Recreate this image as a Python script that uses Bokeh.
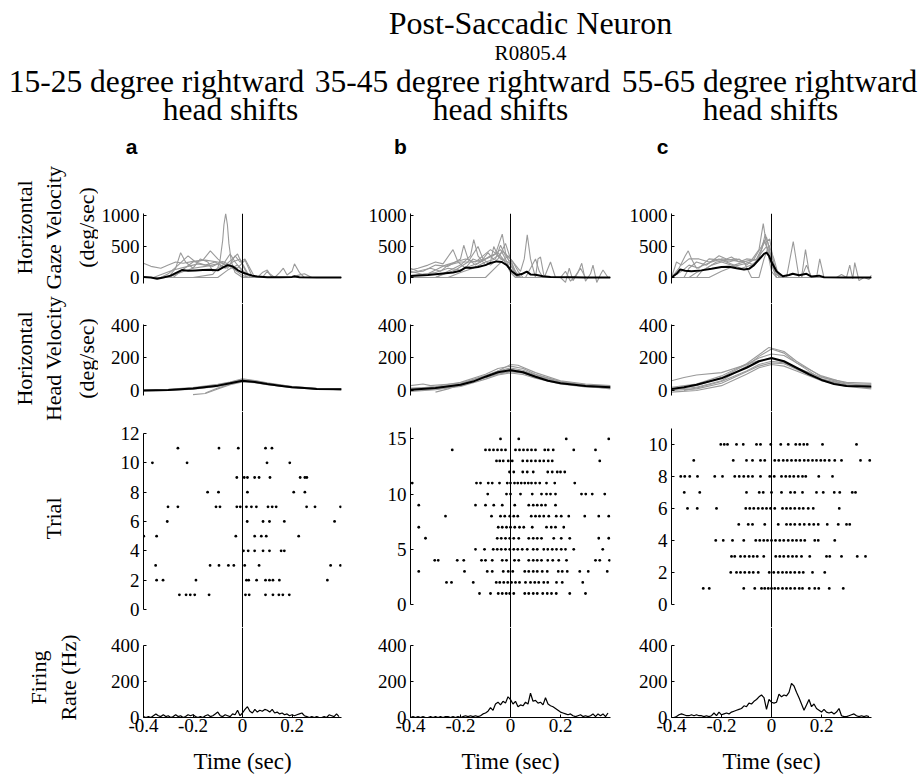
import math
from bokeh.plotting import figure
from bokeh.models import Range1d, LinearAxis, FixedTicker, Span, NumeralTickFormatter
from bokeh.layouts import column, row
from bokeh.core.properties import value
from bokeh.embed import file_html
from bokeh.resources import INLINE

# ---------------- DATA ----------------
COL_TITLES_1 = ["15-25 degree rightward", "35-45 degree rightward", "55-65 degree rightward"]
COL_TITLE_2 = "head shifts"
PANEL_LETTERS = ["a", "b", "c"]
TIME_TICKS = [-0.4, -0.2, 0, 0.2]

# Horizontal gaze velocity: mean (black) and single trials (grey), (time s, deg/s)
GAZE_A_MEAN = [(-0.4,10),(-0.37,0),(-0.345,-20),(-0.32,0),(-0.29,30),(-0.27,70),(-0.245,120),(-0.22,110),(-0.19,115),(-0.16,120),(-0.13,125),(-0.1,115),(-0.08,160),(-0.06,200),(-0.04,180),(-0.02,120),(0.0,80),(0.02,55),(0.04,30),(0.06,15),(0.1,5),(0.15,5),(0.2,10),(0.21,20),(0.23,5),(0.3,0),(0.4,0)]
GAZE_A_GRAY = [
    [(-0.4,0),(-0.2,0),(-0.12,50),(-0.1,150),(-0.09,300),(-0.08,600),(-0.075,850),(-0.068,1030),(-0.061,850),(-0.055,550),(-0.045,250),(-0.03,80),(0.0,0),(0.4,0)],
    [(-0.4,230),(-0.37,180),(-0.33,150),(-0.3,200),(-0.27,250),(-0.24,230),(-0.2,260),(-0.15,280),(-0.1,250),(-0.06,200),(-0.03,120),(0.0,30),(0.03,0),(0.4,0)],
    [(-0.4,0),(-0.3,0),(-0.27,150),(-0.25,400),(-0.23,250),(-0.2,150),(-0.17,300),(-0.14,250),(-0.12,100),(-0.08,200),(-0.05,380),(-0.03,250),(0.0,100),(0.02,0),(0.4,0)],
    [(-0.4,0),(-0.28,0),(-0.25,100),(-0.2,250),(-0.16,280),(-0.13,430),(-0.1,300),(-0.07,200),(-0.04,300),(-0.02,380),(0.0,200),(0.02,50),(0.04,0),(0.4,0)],
    [(-0.4,0),(-0.33,0),(-0.3,60),(-0.26,200),(-0.22,350),(-0.19,250),(-0.15,200),(-0.11,250),(-0.07,150),(-0.04,250),(-0.01,300),(0.01,150),(0.03,0),(0.4,0)],
    [(-0.4,0),(-0.3,0),(-0.25,80),(-0.2,150),(-0.15,180),(-0.1,220),(-0.06,150),(-0.03,350),(-0.01,250),(0.01,300),(0.03,150),(0.05,0),(0.08,0),(0.1,100),(0.12,0),(0.4,0)],
    [(-0.4,0),(-0.1,0),(-0.06,120),(-0.02,200),(0.0,120),(0.02,40),(0.06,0),(0.08,80),(0.1,120),(0.11,60),(0.13,0),(0.15,80),(0.165,150),(0.18,40),(0.2,100),(0.21,220),(0.23,80),(0.25,0),(0.4,0)],
    [(-0.4,0),(-0.36,0),(-0.32,60),(-0.28,120),(-0.22,180),(-0.18,220),(-0.12,180),(-0.08,260),(-0.05,200),(-0.02,150),(0.01,280),(0.025,150),(0.04,0),(0.2,0),(0.22,30),(0.25,60),(0.28,0),(0.4,0)],
]
GAZE_B_MEAN = [(-0.4,25),(-0.33,40),(-0.27,65),(-0.23,80),(-0.2,110),(-0.18,160),(-0.16,155),(-0.13,170),(-0.1,200),(-0.08,235),(-0.055,260),(-0.035,250),(-0.015,200),(0.005,100),(0.025,40),(0.045,55),(0.065,95),(0.08,50),(0.1,45),(0.13,20),(0.16,10),(0.25,5),(0.3,0),(0.4,0)]
GAZE_B_GRAY = [
    [(-0.4,120),(-0.37,150),(-0.33,200),(-0.3,250),(-0.27,220),(-0.23,450),(-0.21,250),(-0.18,150),(-0.15,300),(-0.12,250),(-0.08,350),(-0.05,400),(-0.03,300),(0.0,100),(0.03,0),(0.4,0)],
    [(-0.4,80),(-0.35,100),(-0.3,200),(-0.25,180),(-0.2,300),(-0.187,520),(-0.17,300),(-0.14,200),(-0.1,300),(-0.07,350),(-0.04,450),(-0.02,300),(0.0,120),(0.03,0),(0.4,0)],
    [(-0.4,0),(-0.3,0),(-0.25,100),(-0.2,200),(-0.16,350),(-0.147,610),(-0.13,350),(-0.1,200),(-0.08,250),(-0.067,500),(-0.05,350),(-0.02,250),(0.0,80),(0.02,0),(0.4,0)],
    [(-0.4,150),(-0.37,100),(-0.32,150),(-0.28,100),(-0.25,200),(-0.2,250),(-0.15,250),(-0.1,300),(-0.06,380),(-0.033,700),(-0.02,400),(0.0,200),(0.02,50),(0.04,0),(0.4,0)],
    [(-0.4,100),(-0.35,50),(-0.3,80),(-0.25,150),(-0.2,120),(-0.15,200),(-0.12,250),(-0.09,400),(-0.07,300),(-0.05,350),(-0.03,420),(0.0,300),(0.02,200),(0.04,100),(0.055,300),(0.067,690),(0.08,300),(0.1,0),(0.11,300),(0.12,330),(0.135,0),(0.16,250),(0.18,0),(0.4,0)],
    [(-0.4,0),(-0.25,0),(-0.2,80),(-0.15,150),(-0.1,250),(-0.06,300),(-0.04,520),(-0.02,350),(0.0,250),(0.02,100),(0.04,0),(0.06,0),(0.08,150),(0.1,300),(0.115,100),(0.13,0),(0.4,0)],
    [(-0.4,0),(-0.1,0),(-0.05,200),(-0.01,350),(0.01,250),(0.03,100),(0.05,0),(0.2,0),(0.22,-80),(0.235,150),(0.25,-50),(0.27,80),(0.285,230),(0.3,-60),(0.32,60),(0.33,200),(0.345,-80),(0.36,50),(0.37,120),(0.39,0),(0.4,0)],
    [(-0.4,30),(-0.33,60),(-0.3,120),(-0.26,200),(-0.22,250),(-0.18,300),(-0.14,250),(-0.11,350),(-0.08,450),(-0.055,380),(-0.04,300),(-0.01,250),(0.01,150),(0.03,0),(0.4,0)],
    [(-0.4,0),(-0.3,0),(-0.27,50),(-0.22,120),(-0.17,250),(-0.13,500),(-0.11,300),(-0.08,200),(-0.05,300),(-0.02,550),(0.0,300),(0.02,80),(0.04,0),(0.2,0),(0.22,100),(0.24,-60),(0.26,30),(0.28,150),(0.3,0),(0.4,0)],
]
GAZE_C_MEAN = [(-0.4,0),(-0.38,60),(-0.365,130),(-0.345,110),(-0.32,100),(-0.28,115),(-0.24,140),(-0.2,170),(-0.17,175),(-0.14,150),(-0.11,130),(-0.09,140),(-0.07,200),(-0.05,290),(-0.03,380),(-0.02,400),(-0.01,350),(0.0,250),(0.02,100),(0.045,20),(0.07,40),(0.085,60),(0.11,35),(0.14,60),(0.16,15),(0.19,30),(0.21,5),(0.3,0),(0.4,0)]
GAZE_C_GRAY = [
    [(-0.4,0),(-0.37,150),(-0.345,350),(-0.333,430),(-0.32,300),(-0.3,150),(-0.27,200),(-0.24,250),(-0.2,300),(-0.16,280),(-0.12,250),(-0.08,280),(-0.05,450),(-0.033,870),(-0.015,400),(0.0,100),(0.02,0),(0.4,0)],
    [(-0.4,0),(-0.38,250),(-0.36,200),(-0.33,300),(-0.29,300),(-0.25,250),(-0.21,300),(-0.17,250),(-0.13,300),(-0.1,200),(-0.07,300),(-0.04,500),(-0.02,650),(0.0,300),(0.02,50),(0.04,0),(0.4,0)],
    [(-0.4,0),(-0.35,0),(-0.33,150),(-0.3,250),(-0.26,200),(-0.21,350),(-0.18,300),(-0.16,330),(-0.13,250),(-0.1,300),(-0.06,280),(-0.03,550),(-0.007,620),(0.01,200),(0.03,0),(0.06,0),(0.087,580),(0.11,0),(0.4,0)],
    [(-0.4,0),(-0.3,0),(-0.28,100),(-0.24,200),(-0.2,250),(-0.16,200),(-0.12,150),(-0.08,200),(-0.05,300),(-0.03,600),(-0.015,450),(0.0,200),(0.02,0),(0.12,0),(0.136,450),(0.15,100),(0.16,0),(0.4,0)],
    [(-0.4,0),(-0.33,0),(-0.3,80),(-0.26,150),(-0.22,250),(-0.18,280),(-0.14,300),(-0.1,250),(-0.07,200),(-0.04,400),(-0.02,500),(0.0,350),(0.02,100),(0.04,0),(0.12,0),(0.14,200),(0.16,0),(0.18,0),(0.193,300),(0.21,0),(0.4,0)],
    [(-0.4,0),(-0.25,0),(-0.2,100),(-0.15,180),(-0.1,230),(-0.06,300),(-0.04,450),(-0.025,700),(-0.01,500),(0.0,250),(0.02,0),(0.26,0),(0.28,50),(0.3,0),(0.313,200),(0.325,-20),(0.333,240),(0.35,-50),(0.37,0),(0.39,-30),(0.4,40)],
    [(-0.4,0),(-0.36,100),(-0.33,200),(-0.29,150),(-0.25,300),(-0.2,280),(-0.15,200),(-0.11,250),(-0.08,0),(-0.05,0),(-0.03,300),(-0.01,520),(0.01,300),(0.03,0),(0.4,0)],
]

# Horizontal head velocity (time s, deg/s)
HEAD_A_MEAN = [(-0.4,0),(-0.3,3),(-0.2,12),(-0.1,30),(-0.05,45),(0.0,60),(0.05,52),(0.1,40),(0.15,30),(0.2,20),(0.25,15),(0.3,10),(0.4,8)]
HEAD_A_GRAY = [
    [(-0.4,2),(-0.3,5),(-0.2,15),(-0.1,35),(-0.05,50),(0.0,68),(0.05,60),(0.1,45),(0.2,22),(0.3,12),(0.4,10)],
    [(-0.4,-3),(-0.3,0),(-0.2,8),(-0.1,25),(-0.05,40),(0.0,55),(0.05,50),(0.1,38),(0.2,18),(0.3,8),(0.4,5)],
    [(-0.2,-25),(-0.15,-18),(-0.1,10),(-0.05,35),(0.0,52),(0.05,48),(0.1,35),(0.2,20),(0.3,10),(0.4,6)],
    [(-0.4,5),(-0.3,8),(-0.2,18),(-0.1,38),(-0.05,52),(0.0,72),(0.05,62),(0.1,48),(0.2,25),(0.3,14),(0.4,12)],
    [(-0.15,-15),(-0.1,15),(-0.05,38),(0.0,58),(0.05,55),(0.1,42),(0.2,20),(0.3,10),(0.4,8)],
    [(-0.4,0),(-0.3,2),(-0.2,10),(-0.1,28),(-0.05,44),(0.0,62),(0.05,56),(0.1,44),(0.2,24),(0.3,12),(0.4,4)],
]
HEAD_B_MEAN = [(-0.4,5),(-0.3,15),(-0.2,35),(-0.15,55),(-0.1,85),(-0.05,112),(0.0,125),(0.05,112),(0.1,85),(0.15,60),(0.2,45),(0.3,28),(0.4,20)]
HEAD_B_GRAY = [
    [(-0.4,10),(-0.3,25),(-0.2,50),(-0.1,100),(-0.05,135),(0.0,150),(0.05,135),(0.1,100),(0.2,55),(0.3,35),(0.4,25)],
    [(-0.4,0),(-0.3,8),(-0.2,25),(-0.1,70),(-0.05,95),(0.0,108),(0.05,98),(0.1,75),(0.2,40),(0.3,22),(0.4,15)],
    [(-0.4,30),(-0.35,40),(-0.32,30),(-0.28,35),(-0.2,45),(-0.1,90),(-0.05,118),(0.0,130),(0.05,118),(0.1,90),(0.2,50),(0.3,30),(0.4,20)],
    [(-0.4,-5),(-0.3,5),(-0.2,30),(-0.1,85),(-0.05,120),(0.0,160),(0.03,155),(0.1,110),(0.2,60),(0.3,40),(0.4,30)],
    [(-0.3,-10),(-0.25,10),(-0.2,35),(-0.1,80),(-0.05,105),(0.0,118),(0.05,108),(0.1,85),(0.2,45),(0.3,25),(0.4,15)],
    [(-0.4,15),(-0.3,20),(-0.2,40),(-0.1,92),(-0.05,120),(0.0,138),(0.05,125),(0.1,95),(0.2,55),(0.3,30),(0.4,10)],
    [(-0.4,5),(-0.3,12),(-0.2,32),(-0.1,78),(-0.05,100),(0.0,115),(0.05,108),(0.1,80),(0.2,48),(0.3,32),(0.4,28)],
]
HEAD_C_MEAN = [(-0.4,10),(-0.35,20),(-0.3,35),(-0.2,75),(-0.1,140),(-0.05,180),(0.0,200),(0.05,180),(0.1,140),(0.15,100),(0.2,65),(0.25,40),(0.3,28),(0.4,25)]
HEAD_C_GRAY = [
    [(-0.4,5),(-0.3,20),(-0.2,60),(-0.1,150),(-0.05,210),(0.0,255),(0.05,230),(0.1,170),(0.2,70),(0.3,30),(0.4,20)],
    [(-0.4,-10),(-0.3,0),(-0.2,30),(-0.1,100),(-0.05,140),(0.0,160),(0.05,150),(0.1,120),(0.2,60),(0.3,25),(0.4,10)],
    [(-0.4,60),(-0.35,80),(-0.3,95),(-0.2,110),(-0.1,160),(-0.05,185),(0.0,195),(0.05,175),(0.1,135),(0.2,70),(0.3,40),(0.4,40)],
    [(-0.4,10),(-0.3,30),(-0.2,80),(-0.1,160),(-0.05,200),(0.0,225),(0.05,215),(0.1,170),(0.2,90),(0.3,45),(0.4,25)],
    [(-0.35,0),(-0.3,15),(-0.2,55),(-0.1,120),(-0.05,160),(0.0,180),(0.05,170),(0.1,140),(0.15,110),(0.2,80),(0.3,50),(0.4,45)],
    [(-0.4,20),(-0.3,40),(-0.2,90),(-0.1,165),(-0.05,220),(-0.01,265),(0.05,240),(0.1,180),(0.2,85),(0.3,35),(0.4,15)],
    [(-0.4,0),(-0.3,10),(-0.2,45),(-0.1,115),(-0.05,150),(0.0,170),(0.05,165),(0.1,130),(0.2,65),(0.3,30),(0.4,35)],
]

# Spike rasters: spike times (s) for trials 1..N
RASTER_A = [
    [-0.255,-0.228,-0.211,-0.193,-0.135,0.012,0.027,0.093,0.123,0.147,0.163,0.189],
    [-0.347,-0.321,-0.188,0.016,0.025,0.057,0.093,0.109,0.123,0.149,0.343],
    [-0.351,-0.131,-0.095,-0.057,-0.035,0.009,0.067,0.356,0.396],
    [0.004,0.023,0.049,0.083,0.109,0.156,0.169],
    [-0.399,-0.347,-0.027,0.049,0.076,0.096,0.227],
    [-0.304,0.019,0.083,0.109,0.169,0.372],
    [-0.301,-0.261,-0.107,-0.091,-0.023,-0.009,0.016,0.036,0.056,0.103,0.12,0.136,0.259,0.293,0.396],
    [-0.141,-0.097,0.02,0.207,0.252],
    [-0.023,0.007,0.02,0.049,0.067,0.111,0.233,0.252,0.26],
    [-0.364,-0.224,0.099,0.191],
    [-0.261,-0.095,-0.017,0.093,0.119],
]
RASTER_B = [
    [-0.124,-0.08,-0.049,-0.033,-0.017,-0.003,0.013,0.057,0.073,0.091,0.107,0.129,0.147,0.164,0.183,0.237,0.3],
    [-0.256,-0.236,-0.149,-0.057,-0.043,-0.027,-0.011,0.004,0.02,0.036,0.06,0.08,0.097,0.113,0.133,0.149,0.184,0.207,0.289],
    [-0.367,-0.184,-0.093,-0.073,-0.029,-0.009,0.009,0.057,0.073,0.091,0.107,0.127,0.147,0.191,0.207,0.227,0.277,0.311,0.387],
    [-0.303,-0.289,-0.213,-0.187,-0.116,-0.1,-0.073,-0.033,-0.016,0.016,0.033,0.073,0.091,0.107,0.124,0.149,0.169,0.193,0.224,0.34,0.357,0.396],
    [-0.14,-0.104,-0.069,-0.053,-0.037,-0.02,-0.003,0.013,0.029,0.047,0.067,0.091,0.107,0.133,0.149,0.167,0.184,0.203,0.22,0.253,0.369],
    [-0.34,-0.053,-0.037,-0.02,-0.003,0.013,0.033,0.073,0.091,0.107,0.124,0.173,0.203,0.237,0.353,0.393],
    [-0.367,-0.049,-0.033,-0.016,0.0,0.017,0.036,0.053,0.087,0.144,0.163,0.18,0.213],
    [-0.26,-0.076,-0.04,-0.023,-0.003,0.013,0.029,0.083,0.1,0.116,0.133,0.153,0.183,0.203,0.233,0.297,0.353,0.393],
    [-0.367,-0.14,-0.1,-0.067,-0.033,0.017,0.073,0.091,0.107,0.124,0.14,0.18],
    [-0.091,-0.016,0.0,0.04,0.087,0.124,0.144,0.16,0.18,0.284,0.301,0.327,0.377],
    [-0.393,-0.136,-0.12,-0.089,-0.073,-0.044,-0.013,0.0,0.016,0.029,0.043,0.057,0.071,0.084,0.1,0.117,0.144,0.177,0.257],
    [-0.004,0.013,0.049,0.067,0.091,0.149,0.167,0.187,0.2,0.217],
    [-0.056,-0.043,-0.029,-0.009,0.007,0.049,0.067,0.083,0.1,0.117,0.133,0.151,0.167,0.357],
    [-0.233,-0.1,-0.084,-0.068,-0.052,-0.036,-0.02,0.02,0.036,0.052,0.068,0.084,0.1,0.137,0.151,0.171,0.253,0.34],
    [-0.04,0.033,0.223,0.393],
]
RASTER_C = [
    [-0.273,-0.249,-0.111,-0.067,-0.04,-0.027,-0.013,0.0,0.013,0.027,0.044,0.06,0.076,0.093,0.111,0.124,0.151,0.173,0.189,0.231,0.287],
    [-0.163,-0.14,-0.124,-0.107,-0.089,-0.073,-0.053,-0.009,0.009,0.027,0.044,0.06,0.076,0.093,0.111,0.127,0.164,0.213],
    [-0.16,-0.147,-0.124,-0.107,-0.089,-0.073,-0.057,-0.031,0.017,0.033,0.049,0.067,0.084,0.1,0.12,0.153,0.22,0.233,0.28,0.343,0.376],
    [-0.223,-0.193,-0.156,-0.111,-0.063,-0.047,-0.031,-0.016,0.0,0.016,0.033,0.049,0.067,0.084,0.1,0.117,0.133,0.173,0.187,0.253],
    [-0.131,-0.093,-0.076,-0.027,0.027,0.06,0.076,0.093,0.113,0.131,0.151,0.169,0.187,0.223,0.267,0.3,0.313],
    [-0.336,-0.297,-0.22,-0.103,-0.087,-0.071,-0.053,-0.036,-0.02,-0.004,0.013,0.044,0.06,0.076,0.093,0.111,0.127,0.147,0.167,0.271],
    [-0.349,-0.287,-0.1,-0.049,-0.033,0.0,0.04,0.076,0.093,0.124,0.18,0.207,0.251,0.273,0.323,0.336],
    [-0.363,-0.347,-0.327,-0.296,-0.227,-0.196,-0.147,-0.129,-0.111,-0.093,-0.076,-0.044,-0.007,0.011,0.04,0.057,0.073,0.089,0.107,0.124,0.137,0.189,0.244],
    [-0.311,-0.153,-0.1,-0.076,-0.044,-0.027,0.013,0.029,0.047,0.063,0.08,0.097,0.113,0.131,0.147,0.164,0.18,0.197,0.213,0.231,0.253,0.28,0.356,0.393],
    [-0.203,-0.189,-0.176,-0.14,-0.113,-0.06,-0.044,-0.003,0.037,0.067,0.097,0.113,0.129,0.143,0.204,0.34],
]

# Firing rate (Hz) in 10 ms bins
FR_T = [-0.40,-0.39,-0.38,-0.37,-0.36,-0.35,-0.34,-0.33,-0.32,-0.31,-0.30,-0.29,-0.28,-0.27,-0.26,-0.25,-0.24,-0.23,-0.22,-0.21,
        -0.20,-0.19,-0.18,-0.17,-0.16,-0.15,-0.14,-0.13,-0.12,-0.11,-0.10,-0.09,-0.08,-0.07,-0.06,-0.05,-0.04,-0.03,-0.02,-0.01,
        0.00,0.01,0.02,0.03,0.04,0.05,0.06,0.07,0.08,0.09,0.10,0.11,0.12,0.13,0.14,0.15,0.16,0.17,0.18,0.19,
        0.20,0.21,0.22,0.23,0.24,0.25,0.26,0.27,0.28,0.29,0.30,0.31,0.32,0.33,0.34,0.35,0.36,0.37,0.38,0.39]
FR_A = [5,0,5,0,10,20,10,5,15,5, 10,0,5,15,5,10,0,5,15,10, 15,5,0,5,0,10,15,5,10,20, 30,10,5,15,10,5,20,15,40,10,
        25,45,60,35,25,45,30,40,35,45, 40,30,45,25,30,20,25,15,20,10, 15,10,15,20,25,10,5,0,5,0, 5,0,0,5,0,15,10,5,20,5]
FR_B = [0,5,0,5,0,5,0,0,5,0, 5,0,5,0,5,5,0,5,0,5, 0,5,10,5,10,5,10,5,10,20, 25,35,55,40,75,85,70,90,80,115,
        100,75,90,60,70,65,85,75,135,90, 95,80,85,70,110,75,65,60,50,40, 30,25,20,15,20,10,5,10,15,5, 10,5,10,20,5,20,10,20,5,25]
FR_C = [0,0,5,15,20,15,10,10,15,10, 15,10,10,5,10,5,10,25,10,30, 15,20,25,20,30,35,40,45,50,65, 60,80,75,90,100,115,125,110,45,100,
        85,80,85,130,115,125,120,140,190,175, 140,110,75,40,70,100,60,75,50,40, 30,45,30,25,30,20,30,50,10,5, 5,10,15,20,10,5,10,5,10,5]

# ---------------- STYLE / LAYOUT ----------------
SERIF = "Liberation Serif"
SANS = "Liberation Sans"
GRAY = "#9a9a9a"
LABW = 98   # width of the left label strip
HDRH = 160  # height of the full-width header

def base_fig(width, height, yr, mbl, mbr, mbt, mbb):
    p = figure(width=width, height=height, x_range=Range1d(-0.4, 0.4), y_range=Range1d(*yr),
               output_backend="svg", toolbar_location=None, x_axis_location=None, y_axis_location=None,
               min_border_left=mbl, min_border_right=mbr, min_border_top=mbt, min_border_bottom=mbb)
    p.outline_line_color = None
    p.background_fill_color = "white"
    p.border_fill_color = "white"
    p.xgrid.visible = False
    p.ygrid.visible = False
    return p

def style_axis(ax):
    ax.axis_line_color = "black"
    ax.axis_line_width = 1
    ax.major_tick_in = 3
    ax.major_tick_out = 0
    ax.minor_tick_in = 0
    ax.minor_tick_out = 0
    ax.major_tick_line_color = "black"
    ax.major_label_text_font = SERIF
    ax.major_label_text_font_size = "19px"
    ax.major_label_text_color = "black"
    ax.major_label_standoff = 4
    return ax

def add_yaxis(p, ticks, bounds):
    ax = style_axis(LinearAxis(ticker=FixedTicker(ticks=ticks), bounds=bounds))
    p.add_layout(ax, "left")

def zero_line(p):
    p.add_layout(Span(location=0, dimension="height", line_color="black", line_width=1))

def draw_traces(p, gray, mean):
    p.multi_line(xs=[[a for a, b in tr] for tr in gray], ys=[[b for a, b in tr] for tr in gray],
                 line_color=GRAY, line_width=1.1)
    p.line([a for a, b in mean], [b for a, b in mean], line_color="black", line_width=2)

COLS = [
    dict(gg=GAZE_A_GRAY, gm=GAZE_A_MEAN, hg=HEAD_A_GRAY, hm=HEAD_A_MEAN, ras=RASTER_A, fr=FR_A,
         tt=[0, 2, 4, 6, 8, 10, 12], tr=(-1.23, 13.5), tb=(0, 12), w=262, l=43, r=19),
    dict(gg=GAZE_B_GRAY, gm=GAZE_B_MEAN, hg=HEAD_B_GRAY, hm=HEAD_B_MEAN, ras=RASTER_B, fr=FR_B,
         tt=[0, 5, 10, 15], tr=(-2.08, 17.48), tb=(0, 16), w=260, l=50, r=10),
    dict(gg=GAZE_C_GRAY, gm=GAZE_C_MEAN, hg=HEAD_C_GRAY, hm=HEAD_C_MEAN, ras=RASTER_C, fr=FR_C,
         tt=[0, 2, 4, 6, 8, 10], tr=(-1.44, 12.06), tb=(0, 11), w=302, l=51, r=51),
]

columns = []
for c in COLS:
    # gaze panel: frame from page y=213 to 303
    g = base_fig(c["w"], 303 - HDRH, (-419, 1032), c["l"], c["r"], 213 - HDRH, 0)
    add_yaxis(g, [0, 500, 1000], (-100, 1030))
    zero_line(g)
    draw_traces(g, c["gg"], c["gm"])

    h = base_fig(c["w"], 108, (-129, 535), c["l"], c["r"], 0, 0)
    add_yaxis(h, [0, 200, 400], (-30, 405))
    zero_line(h)
    draw_traces(h, c["hg"], c["hm"])

    t = base_fig(c["w"], 216, c["tr"], c["l"], c["r"], 0, 0)
    add_yaxis(t, c["tt"], c["tb"])
    zero_line(t)
    xs, ys = [], []
    for i, spikes in enumerate(c["ras"]):
        for s in spikes:
            xs.append(s)
            ys.append(i + 1)
    t.scatter(xs, ys, marker="circle", size=2.8, fill_color="black", line_color=None)

    f = base_fig(c["w"], 149, (0, 500), c["l"], c["r"], 0, 59)
    add_yaxis(f, [0, 200, 400], (0, 400))
    xa = style_axis(LinearAxis(ticker=FixedTicker(ticks=TIME_TICKS), bounds=(-0.4, 0.4),
                               formatter=NumeralTickFormatter(format="0.[0]")))
    xa.major_label_standoff = 1
    xa.axis_label = "Time (sec)"
    xa.axis_label_text_font = SERIF
    xa.axis_label_text_font_size = "23px"
    xa.axis_label_text_font_style = "normal"
    xa.axis_label_text_color = "black"
    xa.axis_label_standoff = 14
    f.add_layout(xa, "below")
    zero_line(f)
    f.line(FR_T, c["fr"], line_color="black", line_width=1.2)
    columns.append(column(g, h, t, f))

def txt(p, x, y, s, size, font=SERIF, style="normal", angle=0.0):
    p.text(x=[x], y=[y], text=[s], angle=angle, text_font=value(font), text_font_size=value(size),
           text_font_style=value(style), text_color="black", text_align=value("center"),
           text_baseline=value("middle"))

# header across the full page width (page coordinates, y from top)
hdr = figure(width=922, height=HDRH, x_range=Range1d(0, 922), y_range=Range1d(HDRH, 0),
             output_backend="svg", toolbar_location=None, x_axis_location=None, y_axis_location=None,
             min_border=0)
hdr.outline_line_color = None
hdr.xgrid.visible = False
hdr.ygrid.visible = False

txt(hdr, 530, 22, "Post-Saccadic Neuron", "32px")
txt(hdr, 530, 52, "R0805.4", "21px")
for (x1, x2, xl), t1, let in zip([(156, 230, 131), (462, 500, 400), (769, 770, 662)], COL_TITLES_1, PANEL_LETTERS):
    txt(hdr, x1, 81, t1, "31.5px")
    txt(hdr, x2, 109, COL_TITLE_2, "31.5px")
    txt(hdr, xl, 146, let, "21px", font=SANS, style="bold")

# left axis labels strip (page y from HDRH to 776)
lab = figure(width=LABW, height=776 - HDRH, x_range=Range1d(0, LABW), y_range=Range1d(776, HDRH),
             output_backend="svg", toolbar_location=None, x_axis_location=None, y_axis_location=None,
             min_border=0)
lab.outline_line_color = None
lab.xgrid.visible = False
lab.ygrid.visible = False
A = math.pi / 2
for x, s in [(24, "Horizontal"), (53, "Gaze Velocity"), (86, "(deg/sec)")]:
    txt(lab, x, 227, s, "22px", angle=A)
for x, s in [(24, "Horizontal"), (53, "Head Velocity"), (86, "(deg/sec)")]:
    txt(lab, x, 358, s, "22px", angle=A)
txt(lab, 53, 518, "Trial", "22px", angle=A)
txt(lab, 38, 677, "Firing", "22px", angle=A)
txt(lab, 68, 677, "Rate (Hz)", "22px", angle=A)

layout = column(hdr, row(lab, *columns))
open("out.html", "w").write(file_html(layout, INLINE))
